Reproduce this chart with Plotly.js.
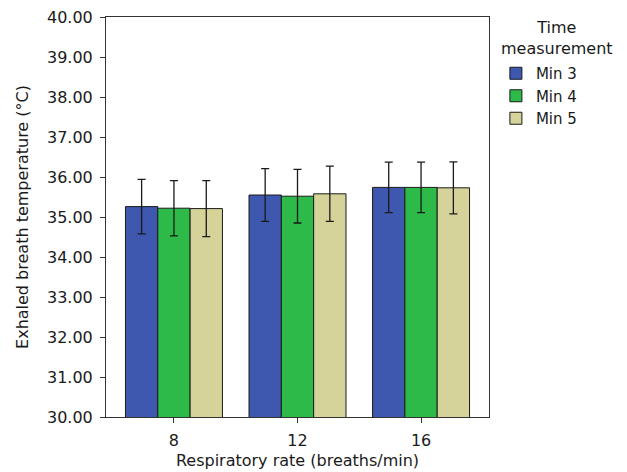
<!DOCTYPE html>
<html>
<head>
<meta charset="utf-8">
<script src="https://cdn.plot.ly/plotly-3.0.1.min.js"></script>
<style>html,body{margin:0;padding:0;background:#fff;}#chart{width:627px;height:472px;}</style>
</head>
<body>
<div id="chart"></div>
<script>
var categories = ["8", "12", "16"];
var seriesNames = ["Min 3", "Min 4", "Min 5"];
var min3 = [35.26, 35.55, 35.74];
var min4 = [35.22, 35.52, 35.74];
var min5 = [35.21, 35.58, 35.73];
var err3 = [0.68, 0.66, 0.63];
var err4 = [0.69, 0.67, 0.63];
var err5 = [0.70, 0.69, 0.65];
var yTicks = [30, 31, 32, 33, 34, 35, 36, 37, 38, 39, 40];
var yTickLabels = ["30.00", "31.00", "32.00", "33.00", "34.00", "35.00", "36.00", "37.00", "38.00", "39.00", "40.00"];

var colors = ["#3e58b0", "#2dba48", "#d6d39a"];
var vals = [min3, min4, min5];
var errs = [err3, err4, err5];
var FONT = "DejaVu Sans, Liberation Sans, Arial, sans-serif";

var traces = vals.map(function (v, i) {
  return {
    type: "bar",
    name: seriesNames[i],
    x: categories,
    y: v,
    marker: { color: colors[i], line: { color: "#1a1a1a", width: 1 } },
    error_y: { type: "data", array: errs[i], visible: true, color: "#1a1a1a", thickness: 1.3, width: 4 }
  };
});

var layout = {
  width: 627,
  height: 472,
  margin: { l: 106, r: 138, t: 17, b: 55 },
  paper_bgcolor: "#ffffff",
  plot_bgcolor: "#ffffff",
  font: { family: FONT, size: 16, color: "#1a1a1a" },
  barmode: "group",
  bargap: 0.215,
  bargroupgap: 0,
  xaxis: {
    type: "category",
    range: [-0.55, 2.55],
    showline: true, linecolor: "#333", linewidth: 1, mirror: true,
    ticks: "outside", ticklen: 5, tickcolor: "#333",
    ticklabelstandoff: 4,
    showgrid: false, zeroline: false,
    tickfont: { size: 16 },
    title: { text: "Respiratory rate (breaths/min)", font: { size: 16 }, standoff: 5 }
  },
  yaxis: {
    range: [30, 40],
    tickvals: yTicks,
    ticktext: yTickLabels,
    showline: true, linecolor: "#333", linewidth: 1, mirror: true,
    ticks: "outside", ticklen: 5, tickcolor: "#333",
    ticklabelstandoff: 4,
    showgrid: false, zeroline: false,
    tickfont: { size: 16 },
    title: { text: "Exhaled breath temperature (°C)", font: { size: 16 }, standoff: 14 }
  },
  showlegend: true,
  legend: {
    x: 1.018, xanchor: "left", y: 0.9, yanchor: "top",
    font: { size: 15 },
    bgcolor: "rgba(0,0,0,0)"
  },
  annotations: [{
    xref: "paper", yref: "paper",
    x: 1.178, y: 1.003, xanchor: "center", yanchor: "top",
    text: "Time<br>measurement", align: "center", showarrow: false,
    font: { size: 16, family: FONT, color: "#1a1a1a" }
  }]
};

Plotly.newPlot("chart", traces, layout, { displayModeBar: false, staticPlot: true });
</script>
</body>
</html>
